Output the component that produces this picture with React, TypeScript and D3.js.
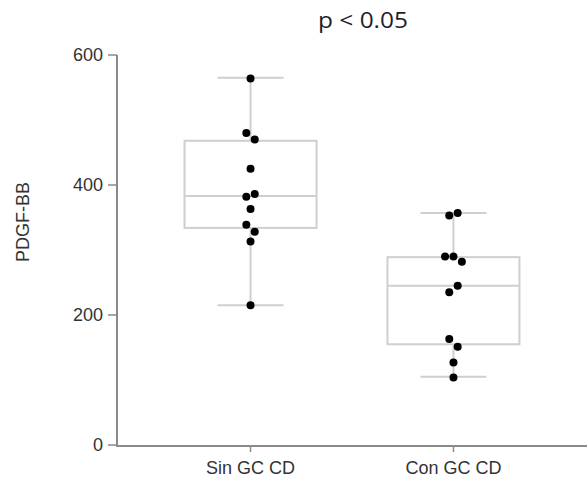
import React from "react";
import * as d3 from "d3";

const categories = ["Sin GC CD", "Con GC CD"];
const sinValues = [564, 480, 470, 425, 386, 382, 363, 339, 328, 313, 215];
const sinJitter = [0, -1, 1, 0, 1, -1, 0, -1, 1, 0, 0];
const conValues = [357, 353, 290, 290, 282, 245, 235, 163, 151, 127, 104];
const conJitter = [1, -1, -2, 0, 2, 1, -1, -1, 1, 0, 0];
// box stats: [lowWhisker, q1, median, q3, highWhisker]
const sinBox = [215, 334, 383, 468, 565];
const conBox = [105, 155, 245, 289, 357];
const yTicks = [0, 200, 400, 600];
const title = "p < 0.05";
const yLabel = "PDGF-BB";

const W = 587;
const H = 481;

export default function App() {
  const y = d3.scaleLinear().domain([0, 600]).range([445, 55]);
  const x = d3.scalePoint<string>().domain(categories).range([117, 587]).padding(0.658);
  const groups = [
    { name: categories[0], values: sinValues, jitter: sinJitter, box: sinBox },
    { name: categories[1], values: conValues, jitter: conJitter, box: conBox },
  ];
  const boxHalf = 66;
  const capHalf = 33;
  const jit = 4.2;
  const axisColor = "#8a8a8a";
  const boxColor = "#cfcfcf";
  const font = "'Liberation Sans', Arial, sans-serif";

  return (
    <svg width={W} height={H} style={{ position: "absolute", left: 0, top: 0, background: "#fff" }}>
      <rect x={0} y={0} width={W} height={H} fill="#fff" />
      <text x={363} y={28} textAnchor="middle" fontFamily="'Open Sans', 'Noto Sans', sans-serif" fontSize={21} fill="#1e1e28" textLength={90} lengthAdjust="spacingAndGlyphs">
        {title}
      </text>
      {groups.map((g) => {
        const cx = x(g.name)!;
        const [lo, q1, med, q3, hi] = g.box;
        return (
          <g key={g.name}>
            <line x1={cx} x2={cx} y1={y(hi)} y2={y(q3)} stroke={boxColor} strokeWidth={2} />
            <line x1={cx} x2={cx} y1={y(q1)} y2={y(lo)} stroke={boxColor} strokeWidth={2} />
            <line x1={cx - capHalf} x2={cx + capHalf} y1={y(hi)} y2={y(hi)} stroke={boxColor} strokeWidth={2} />
            <line x1={cx - capHalf} x2={cx + capHalf} y1={y(lo)} y2={y(lo)} stroke={boxColor} strokeWidth={2} />
            <rect x={cx - boxHalf} y={y(q3)} width={boxHalf * 2} height={y(q1) - y(q3)} fill="none" stroke={boxColor} strokeWidth={2} />
            <line x1={cx - boxHalf} x2={cx + boxHalf} y1={y(med)} y2={y(med)} stroke={boxColor} strokeWidth={2} />
            {g.values.map((v, i) => (
              <circle key={i} cx={cx + g.jitter[i] * jit} cy={y(v)} r={4} fill="#000" />
            ))}
          </g>
        );
      })}
      {/* y axis */}
      <line x1={117} x2={117} y1={y(600)} y2={y(0)} stroke={axisColor} strokeWidth={2} />
      {yTicks.map((t) => (
        <g key={t}>
          <line x1={108} x2={117} y1={y(t)} y2={y(t)} stroke={axisColor} strokeWidth={1.5} />
          <text x={103} y={y(t)} dy="0.35em" textAnchor="end" fontFamily={font} fontSize={18} fill="#333">
            {t}
          </text>
        </g>
      ))}
      {/* x axis */}
      <line x1={116} x2={W} y1={446} y2={446} stroke={axisColor} strokeWidth={2} />
      {categories.map((c) => (
        <g key={c}>
          <line x1={x(c)!} x2={x(c)!} y1={446} y2={452} stroke={axisColor} strokeWidth={1.5} />
          <text x={x(c)!} y={474} textAnchor="middle" fontFamily={font} fontSize={18} fill="#333">
            {c}
          </text>
        </g>
      ))}
      <text transform="translate(29,222) rotate(-90)" textAnchor="middle" fontFamily={font} fontSize={18} fill="#333">
        {yLabel}
      </text>
    </svg>
  );
}
